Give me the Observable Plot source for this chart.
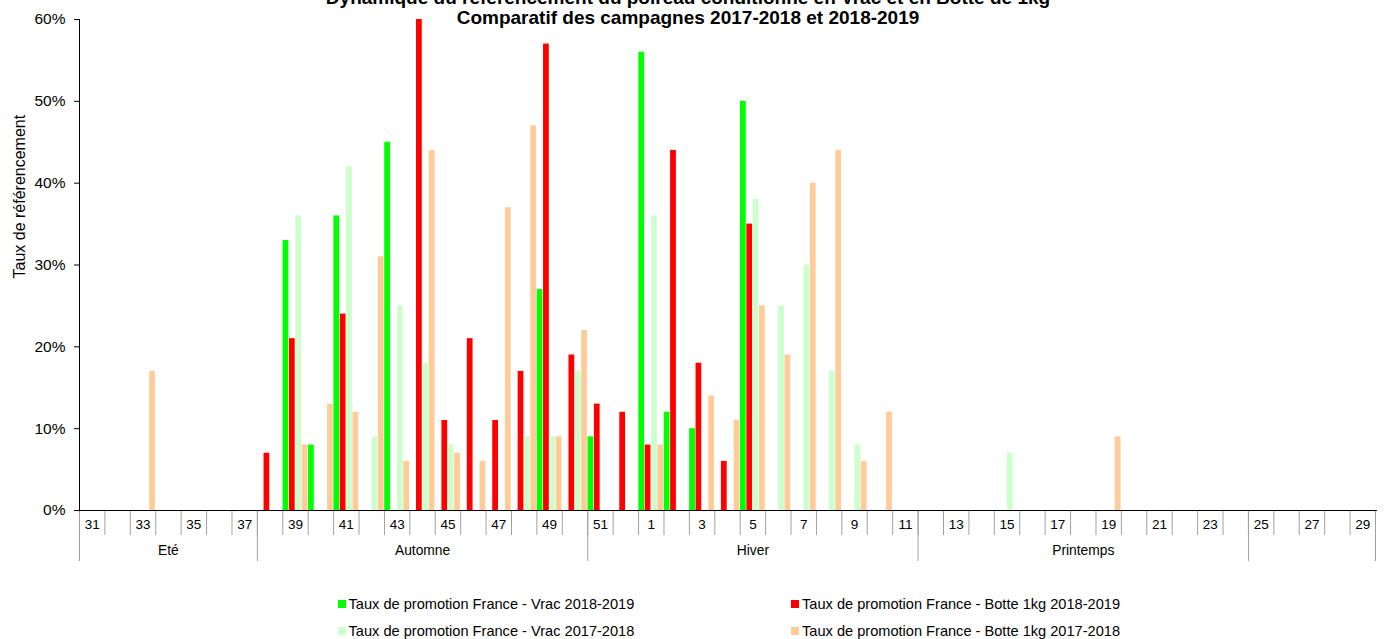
<!DOCTYPE html>
<html>
<head>
<meta charset="utf-8">
<script src="https://cdn.jsdelivr.net/npm/d3@7"></script>
<script src="https://cdn.jsdelivr.net/npm/@observablehq/plot@0.6"></script>
<style>
  body { margin: 0; background: #fff; font-family: "Liberation Sans", Arial, sans-serif; color: #000; }
  #wrap { position: relative; width: 1391px; height: 639px; overflow: hidden; background: #fff; }
  #chart { position: absolute; left: 0; top: 0; z-index: 0; }
  .title { position: absolute; z-index: 2; left: 688px; transform: translateX(-50%); font-weight: bold; font-size: 19px; line-height: 19px; white-space: nowrap; }
  .leg { position: absolute; font-size: 14.6px; line-height: 17px; white-space: nowrap; }
  .sw { position: absolute; width: 8px; height: 8px; }
</style>
</head>
<body>
<div id="wrap">
  <div id="chart"></div>
  <div class="title" style="top:-12px">Dynamique du référencement du poireau conditionné en Vrac et en Botte de 1kg</div>
  <div class="title" style="top:8px">Comparatif des campagnes 2017-2018 et 2018-2019</div>
</div>
<script>
// ---- Data ----
const weeks = [31,32,33,34,35,36,37,38,39,40,41,42,43,44,45,46,47,48,49,50,51,52,
               1,2,3,4,5,6,7,8,9,10,11,12,13,14,15,16,17,18,19,20,21,22,23,24,25,26,27,28,29];

const seriesNames = [
  "Taux de promotion France - Vrac 2018-2019",
  "Taux de promotion France - Botte 1kg 2018-2019",
  "Taux de promotion France - Vrac 2017-2018",
  "Taux de promotion France - Botte 1kg 2017-2018"
];
const seriesColors = ["#00ff00", "#ff0000", "#ccffcc", "#ffcc99"];

// values in %, aligned with weeks (rows: 31-40 | 41-50 | 51,52,1-8 | 9-18 | 19-28 | 29)
const vrac1819 = [
  null,null,null,null,null,null,null,null,33,8,
  36,null,45,null,null,null,null,null,27,null,
  9,null,56,12,10,null,50,null,null,null,
  null,null,null,null,null,null,null,null,null,null,
  null,null,null,null,null,null,null,null,null,null,
  null];
const botte1819 = [
  null,null,null,null,null,null,null,7,21,null,
  24,null,null,60,11,21,11,17,57,19,
  13,12,8,44,18,6,35,null,null,null,
  null,null,null,null,null,null,null,null,null,null,
  null,null,null,null,null,null,null,null,null,null,
  null];
const vrac1718 = [
  null,null,null,null,null,null,null,null,36,null,
  42,9,25,18,8,null,null,9,9,17,
  null,null,36,null,null,null,38,25,30,17,
  8,null,null,null,null,null,7,null,null,null,
  null,null,null,null,null,null,null,null,null,null,
  null];
const botte1718 = [
  null,null,17,null,null,null,null,null,8,13,
  12,31,6,44,7,6,37,47,9,22,
  null,null,8,null,14,11,25,19,40,44,
  6,12,null,null,null,null,null,null,null,null,
  9,null,null,null,null,null,null,null,null,null,
  null];

const yTicks = [0,10,20,30,40,50,60];
const seasonNames = ["Eté","Automne","Hiver","Printemps",""];
const seasonFirstWeek = [31,38,51,12,25];
const seasonLastWeek  = [37,50,11,24,29];
const yTitle = "Taux de référencement";

// ---- Layout ----
const W = 1391, H = 580, ML = 79, MR = 16, MT = 19, MB = 70;
const bw = (W - ML - MR) / weeks.length;
const slot = bw / 4;
const allSeries = [vrac1819, botte1819, vrac1718, botte1718];

const barMarks = allSeries.map((vals, k) => Plot.barY(
  weeks.map((w, i) => ({week: w, value: vals[i]})).filter(d => d.value != null),
  {x: "week", y: "value", fill: seriesColors[k],
   insetLeft: k * slot + 0.3, insetRight: (3 - k) * slot + 0.3}
));

const seasons = seasonNames.map((name, i) => {
  const i0 = weeks.indexOf(seasonFirstWeek[i]);
  const i1 = weeks.indexOf(seasonLastWeek[i]);
  return {name, from: seasonFirstWeek[i], mid: weeks[Math.round((i0 + i1) / 2)]};
});

const sepColor = "#a0a0a0";
const zero = () => 0;

const chart = Plot.plot({
  width: W, height: H,
  marginLeft: ML, marginRight: MR, marginTop: MT, marginBottom: MB,
  x: {type: "band", domain: weeks, padding: 0, round: false, axis: null},
  y: {domain: [0, 60]},
  style: {fontFamily: "'Liberation Sans', Arial, sans-serif", fontSize: "13px", color: "#000", background: "transparent", overflow: "visible"},
  marks: [
    ...barMarks,
    // week separators
    Plot.ruleX(weeks, {x: d => d, y1: zero, y2: zero, insetBottom: -25, dx: -bw / 2, stroke: sepColor}),
    Plot.ruleX([weeks[weeks.length - 1]], {x: d => d, y1: zero, y2: zero, insetBottom: -51, dx: bw / 2, stroke: sepColor}),
    // season separators
    Plot.ruleX(seasons, {x: "from", y1: zero, y2: zero, insetBottom: -51, dx: -bw / 2, stroke: sepColor}),
    // axes lines
    Plot.ruleY([0], {stroke: "#000", insetRight: -2}),
    Plot.ruleX([weeks[0]], {x: d => d, dx: -bw / 2, stroke: "#000"}),
    Plot.axisY(yTicks, {tickFormat: d => d + "%", tickSize: 5, tickPadding: 9, fontSize: 15.5, label: null}),
    // week labels (odd weeks)
    Plot.text(weeks.filter(w => w % 2 === 1), {x: d => d, text: d => String(d), frameAnchor: "bottom", dy: 18.4, fontSize: 13.5}),
    // season labels
    Plot.text(seasons, {x: "mid", text: "name", frameAnchor: "bottom", dy: 44, fontSize: 13.8}),
    // y title
    Plot.text([yTitle], {text: d => d, frameAnchor: "left", rotate: -90, dx: -60, dy: 13.5, fontSize: 16})
  ]
});
document.getElementById("chart").appendChild(chart);

// ---- Legend ----
const legendPos = [[337.5, 596], [791, 596], [337.5, 623], [791, 623]];
const wrap = d3.select("#wrap");
seriesNames.forEach((name, k) => {
  const [lx, ly] = legendPos[k];
  wrap.append("div").attr("class", "sw")
    .style("left", lx + "px").style("top", (ly + 4) + "px")
    .style("background", seriesColors[k]);
  wrap.append("div").attr("class", "leg")
    .style("left", (lx + 11) + "px").style("top", ly + "px")
    .text(name);
});
</script>
</body>
</html>
